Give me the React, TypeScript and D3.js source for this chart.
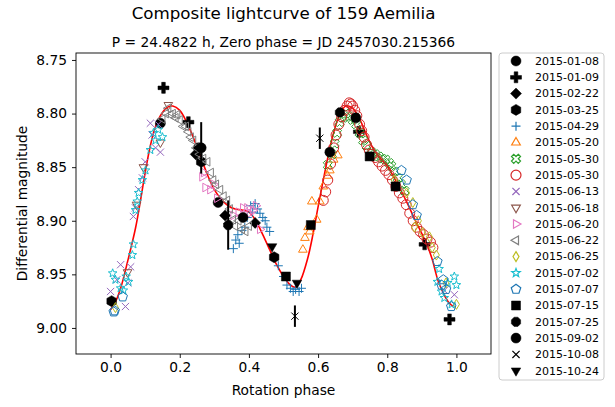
import React, { useRef, useEffect } from 'react';
import * as d3 from 'd3';

const W = 615;
const H = 407;
const margin = { top: 53, right: 124, bottom: 53, left: 76 };
const width = W - margin.left - margin.right;
const height = H - margin.top - margin.bottom;

// legend labels, in drawing order
const dates = [
  '2015-01-08', '2015-01-09', '2015-02-22', '2015-03-25', '2015-04-29',
  '2015-05-20', '2015-05-30', '2015-05-30', '2015-06-13', '2015-06-18',
  '2015-06-20', '2015-06-22', '2015-06-25', '2015-07-02', '2015-07-07',
  '2015-07-15', '2015-07-25', '2015-09-02', '2015-10-08', '2015-10-24',
];

const xTicks = [0.0, 0.2, 0.4, 0.6, 0.8, 1.0];
const yTicks = [8.75, 8.8, 8.85, 8.9, 8.95, 9.0];

// fitted lightcurve (phase, magnitude)
const modelPhase = [0.0, 0.015, 0.03, 0.05, 0.072, 0.086, 0.1, 0.115, 0.13, 0.15, 0.165, 0.18, 0.2, 0.22, 0.24, 0.26, 0.28, 0.3, 0.32, 0.34, 0.36, 0.38, 0.4, 0.42, 0.44, 0.46, 0.48, 0.5, 0.52, 0.535, 0.55, 0.57, 0.585, 0.6, 0.62, 0.64, 0.66, 0.68, 0.7, 0.72, 0.74, 0.76, 0.78, 0.8, 0.82, 0.84, 0.86, 0.88, 0.9, 0.917, 0.93, 0.946, 0.96, 0.975, 0.99];
const modelMag = [8.983, 8.975, 8.962, 8.937, 8.907, 8.882, 8.855, 8.83, 8.812, 8.799, 8.794, 8.793, 8.797, 8.808, 8.823, 8.84, 8.857, 8.871, 8.88, 8.886, 8.889, 8.89, 8.892, 8.9, 8.913, 8.927, 8.941, 8.952, 8.96, 8.962, 8.955, 8.935, 8.913, 8.887, 8.854, 8.824, 8.803, 8.793, 8.795, 8.805, 8.82, 8.833, 8.842, 8.849, 8.86, 8.872, 8.885, 8.899, 8.912, 8.924, 8.936, 8.955, 8.966, 8.975, 8.98];

// observations per night: [phase, mag, error?]
const n0108 = [[0.144, 8.809], [0.254, 8.832], [0.311, 8.883]];
const n0109 = [[0.153, 8.776, 0.005], [0.225, 8.808], [0.718, 8.817], [0.908, 8.922], [0.98, 8.992]];
const n0222 = [[0.246, 8.838], [0.331, 8.895], [0.418, 8.902]];
const n0325 = [[0.003, 8.975], [0.262, 8.845], [0.473, 8.934]];
const n0429 = [[0.355, 8.926], [0.362, 8.918], [0.368, 8.913], [0.372, 8.921], [0.38, 8.909], [0.388, 8.906], [0.395, 8.897], [0.405, 8.886], [0.41, 8.892], [0.418, 8.884], [0.425, 8.889], [0.432, 8.893], [0.44, 8.897], [0.447, 8.9], [0.452, 8.906], [0.46, 8.91], [0.485, 8.942], [0.5, 8.952], [0.51, 8.96], [0.52, 8.963], [0.528, 8.966], [0.535, 8.964], [0.545, 8.966], [0.552, 8.963]];
const n0520 = [[0.556, 8.927], [0.562, 8.916], [0.571, 8.906], [0.576, 8.91], [0.582, 8.882], [0.596, 8.899], [0.605, 8.882], [0.615, 8.868], [0.627, 8.858], [0.634, 8.853], [0.645, 8.843], [0.657, 8.839]];
const n0530a = [[0.628, 8.848], [0.64, 8.838], [0.648, 8.828], [0.655, 8.818], [0.662, 8.808], [0.672, 8.804], [0.68, 8.8], [0.69, 8.803], [0.7, 8.806], [0.71, 8.81], [0.72, 8.818], [0.73, 8.825], [0.74, 8.83], [0.755, 8.836], [0.765, 8.838], [0.775, 8.84], [0.785, 8.842], [0.795, 8.843], [0.805, 8.846], [0.812, 8.849], [0.82, 8.854], [0.83, 8.86], [0.84, 8.866], [0.85, 8.872]];
const n0530b = [[0.615, 8.881], [0.622, 8.873], [0.628, 8.862], [0.636, 8.847], [0.645, 8.832], [0.652, 8.82], [0.66, 8.81], [0.668, 8.803], [0.676, 8.797], [0.684, 8.793], [0.69, 8.79], [0.695, 8.791], [0.7, 8.793], [0.706, 8.797], [0.712, 8.802], [0.72, 8.81], [0.726, 8.816], [0.733, 8.822], [0.74, 8.829], [0.748, 8.834], [0.755, 8.838], [0.765, 8.841], [0.775, 8.845], [0.785, 8.849], [0.795, 8.853], [0.805, 8.857], [0.815, 8.862], [0.825, 8.868], [0.835, 8.874], [0.845, 8.879], [0.855, 8.885], [0.865, 8.893], [0.875, 8.9], [0.885, 8.906], [0.895, 8.91], [0.905, 8.913], [0.915, 8.917], [0.925, 8.92], [0.932, 8.925]];
const n0613 = [[0.0, 8.966], [0.018, 8.955], [0.029, 8.941], [0.043, 8.98], [0.05, 8.958], [0.058, 8.943], [0.066, 8.896], [0.072, 8.888], [0.081, 8.871], [0.092, 8.86], [0.1, 8.845], [0.115, 8.809], [0.12, 8.82], [0.13, 8.832], [0.144, 8.836], [0.138, 8.81], [0.965, 8.965], [0.994, 8.969]];
const n0618 = [[0.049, 8.948], [0.075, 8.885], [0.095, 8.85], [0.144, 8.827], [0.167, 8.792]];
const n0620 = [[0.265, 8.859], [0.27, 8.855], [0.274, 8.869], [0.288, 8.871], [0.298, 8.866], [0.308, 8.879], [0.355, 8.895], [0.37, 8.892], [0.383, 8.888], [0.395, 8.888], [0.402, 8.893], [0.412, 8.89], [0.42, 8.886], [0.432, 8.908]];
const n0622 = [[0.15, 8.805], [0.16, 8.8], [0.167, 8.795], [0.173, 8.801], [0.18, 8.8], [0.188, 8.804], [0.193, 8.801], [0.2, 8.806], [0.21, 8.812], [0.218, 8.812], [0.225, 8.817], [0.232, 8.822], [0.239, 8.825], [0.248, 8.832], [0.258, 8.838], [0.268, 8.842], [0.28, 8.845], [0.29, 8.855], [0.297, 8.862], [0.305, 8.866], [0.317, 8.871], [0.327, 8.877], [0.337, 8.881], [0.345, 8.889], [0.354, 8.899], [0.36, 8.905], [0.37, 8.9], [0.38, 8.908], [0.39, 8.91], [0.4, 8.905]];
const n0625 = [[0.014, 8.981], [0.82, 8.862], [0.856, 8.874], [0.874, 8.883], [0.879, 8.906], [0.89, 8.9], [0.902, 8.911], [0.922, 8.915], [0.93, 8.925], [0.942, 8.932], [0.97, 8.958], [1.0, 8.978]];
const n0702 = [[0.006, 8.949], [0.014, 8.955], [0.029, 8.963], [0.037, 8.965], [0.045, 8.952], [0.052, 8.957], [0.063, 8.932], [0.066, 8.922], [0.072, 8.89], [0.077, 8.882], [0.081, 8.874], [0.092, 8.862], [0.101, 8.853], [0.115, 8.834], [0.124, 8.818], [0.13, 8.825], [0.138, 8.815], [0.15, 8.822], [0.945, 8.957], [0.95, 8.945], [0.957, 8.966], [0.965, 8.972], [0.975, 8.958], [0.986, 8.978], [0.994, 8.952], [1.0, 8.96]];
const n0707 = [[0.009, 8.985], [0.012, 8.984], [0.035, 8.971], [0.841, 8.853], [0.856, 8.862], [0.874, 8.885], [0.885, 8.895], [0.945, 8.938], [0.957, 8.96], [0.962, 8.955], [0.97, 8.964], [0.985, 8.98]];
const n0715 = [[0.507, 8.952], [0.579, 8.904], [0.749, 8.84], [0.824, 8.868]];
const n0725 = [[0.34, 8.904, 0.023], [0.663, 8.799]];
const n0902 = [[0.262, 8.832, 0.024], [0.383, 8.897], [0.634, 8.836], [0.709, 8.804]];
const n1008 = [[0.605, 8.823, 0.01], [0.533, 8.989, 0.01]];
const n1024 = [[0.467, 8.924], [0.539, 8.958]];

const nights = [n0108, n0109, n0222, n0325, n0429, n0520, n0530a, n0530b, n0613, n0618, n0620, n0622, n0625, n0702, n0707, n0715, n0725, n0902, n1008, n1024];

// marker style per night
const styles = [
  { m: 'o', c: '#000', fill: true, s: 10 },
  { m: 'P', c: '#000', fill: true, s: 11 },
  { m: 'D', c: '#000', fill: true, s: 11 },
  { m: 'h', c: '#000', fill: true, s: 11 },
  { m: '+', c: '#1f77b4', fill: false, s: 9 },
  { m: '^', c: '#ff7f0e', fill: false, s: 10 },
  { m: 'X', c: '#2ca02c', fill: false, s: 8 },
  { m: 'o', c: '#d62728', fill: false, s: 10 },
  { m: 'x', c: '#9467bd', fill: false, s: 9 },
  { m: 'v', c: '#8c564b', fill: false, s: 10 },
  { m: '>', c: '#e377c2', fill: false, s: 10 },
  { m: '<', c: '#7f7f7f', fill: false, s: 10 },
  { m: 'd', c: '#bcbd22', fill: false, s: 10 },
  { m: '*', c: '#17becf', fill: false, s: 9 },
  { m: 'p', c: '#1f77b4', fill: false, s: 10 },
  { m: 's', c: '#000', fill: true, s: 10 },
  { m: '8', c: '#000', fill: true, s: 10 },
  { m: 'o', c: '#000', fill: true, s: 10 },
  { m: 'x', c: '#000', fill: false, s: 9 },
  { m: 'v', c: '#000', fill: true, s: 11 },
];

const poly = (n: number, r: number, rot: number) => {
  const pts = d3.range(n).map(i => {
    const a = rot + (i * 2 * Math.PI) / n;
    return [r * Math.cos(a), r * Math.sin(a)];
  });
  return 'M' + pts.map(p => p[0].toFixed(2) + ',' + p[1].toFixed(2)).join('L') + 'Z';
};

const rotatePts = (pts: number[][], ang: number) =>
  pts.map(([x, y]) => [x * Math.cos(ang) - y * Math.sin(ang), x * Math.sin(ang) + y * Math.cos(ang)]);

const ptsPath = (pts: number[][]) =>
  'M' + pts.map(p => p[0].toFixed(2) + ',' + p[1].toFixed(2)).join('L') + 'Z';

const markerPath = (m: string, s: number) => {
  const r = s / 2;
  const t = s / 6;
  const plusPts = [[-t, -r], [t, -r], [t, -t], [r, -t], [r, t], [t, t], [t, r], [-t, r], [-t, t], [-r, t], [-r, -t], [-t, -t]];
  switch (m) {
    case 'o':
      return `M${r},0A${r},${r} 0 1,1 ${-r},0A${r},${r} 0 1,1 ${r},0Z`;
    case 'P':
      return ptsPath(plusPts);
    case 'X':
      return ptsPath(rotatePts(plusPts.map(([x, y]) => [x * 1.2, y * 1.2]), Math.PI / 4));
    case 'D':
      return poly(4, r, -Math.PI / 2);
    case 'd':
      return ptsPath([[0, -r], [r * 0.6, 0], [0, r], [-r * 0.6, 0]]);
    case 'h':
      return poly(6, r, -Math.PI / 2);
    case '8':
      return poly(8, r, Math.PI / 8);
    case 'p':
      return poly(5, r, -Math.PI / 2);
    case 's':
      return `M${-r * 0.9},${-r * 0.9}H${r * 0.9}V${r * 0.9}H${-r * 0.9}Z`;
    case '^':
      return poly(3, r, -Math.PI / 2);
    case 'v':
      return poly(3, r, Math.PI / 2);
    case '<':
      return poly(3, r, Math.PI);
    case '>':
      return poly(3, r, 0);
    case '*': {
      const pts = d3.range(10).map(i => {
        const a = -Math.PI / 2 + (i * Math.PI) / 5;
        const rr = i % 2 === 0 ? r : r * 0.42;
        return [rr * Math.cos(a), rr * Math.sin(a)];
      });
      return ptsPath(pts);
    }
    case '+':
      return `M${-r},0H${r}M0,${-r}V${r}`;
    case 'x': {
      const q = r * 0.8;
      return `M${-q},${-q}L${q},${q}M${-q},${q}L${q},${-q}`;
    }
  }
  return '';
};

const App: React.FC = () => {
  const svgRef = useRef<SVGSVGElement>(null);

  useEffect(() => {
    const root = d3.select(svgRef.current as any);
    root.selectAll('*').remove();

    const xScale = d3.scaleLinear().domain([-0.1, 1.1]).range([0, width]);
    const yScale = d3.scaleLinear().domain([8.7435, 9.0243]).range([0, height]);

    // titles
    root.append('text')
      .attr('x', margin.left + width / 2).attr('y', 19)
      .attr('text-anchor', 'middle').style('font-size', '16.7px')
      .text('Composite lightcurve of 159 Aemilia');
    root.append('text')
      .attr('x', margin.left + width / 2).attr('y', 47)
      .attr('text-anchor', 'middle').style('font-size', '13.8px')
      .text('P = 24.4822 h, Zero phase = JD 2457030.215366');

    const svg = root.append('g').attr('transform', `translate(${margin.left},${margin.top})`);

    svg.append('defs').append('clipPath').attr('id', 'plotclip')
      .append('rect').attr('width', width).attr('height', height);

    const plot = svg.append('g').attr('clip-path', 'url(#plotclip)');

    // fitted curve
    const line = d3.line<number>()
      .x((_, i) => xScale(modelPhase[i]))
      .y(d => yScale(d))
      .curve(d3.curveCatmullRom);
    plot.append('path')
      .attr('d', line(modelMag) as string)
      .attr('fill', 'none')
      .attr('stroke', '#ff0000')
      .attr('stroke-width', 1.6);

    // observations
    nights.forEach((pts, i) => {
      const st = styles[i];
      const g = plot.append('g');
      g.selectAll('.err')
        .data(pts.filter(p => p.length > 2))
        .join('line')
        .attr('x1', d => xScale(d[0]))
        .attr('x2', d => xScale(d[0]))
        .attr('y1', d => yScale(d[1] - d[2]))
        .attr('y2', d => yScale(d[1] + d[2]))
        .attr('stroke', st.c)
        .attr('stroke-width', 2);
      g.selectAll('.pt')
        .data(pts)
        .join('path')
        .attr('transform', d => `translate(${xScale(d[0])},${yScale(d[1])})`)
        .attr('d', markerPath(st.m, st.s))
        .attr('fill', st.fill ? st.c : 'none')
        .attr('stroke', st.c)
        .attr('stroke-width', st.fill ? 0.5 : 1);
    });

    // frame
    svg.append('rect')
      .attr('width', width).attr('height', height)
      .attr('fill', 'none').attr('stroke', '#000').attr('stroke-width', 0.9);

    // axes
    const xAxis = svg.append('g').attr('transform', `translate(0,${height})`)
      .call(d3.axisBottom(xScale).tickValues(xTicks).tickFormat(d3.format('.1f')).tickSize(4).tickPadding(4));
    const yAxis = svg.append('g')
      .call(d3.axisLeft(yScale).tickValues(yTicks).tickFormat(d3.format('.2f')).tickSize(4).tickPadding(5));
    [xAxis, yAxis].forEach(a => {
      a.select('.domain').remove();
      a.selectAll('text').style('font-size', '13.8px').style('font-family', 'DejaVu Sans').attr('fill', '#000');
      a.selectAll('line').attr('stroke', '#000').attr('stroke-width', 0.9);
    });

    svg.append('text')
      .attr('x', width / 2).attr('y', height + 41)
      .attr('text-anchor', 'middle').style('font-size', '13.8px')
      .text('Rotation phase');
    svg.append('text')
      .attr('transform', `translate(${22 - margin.left},${height / 2}) rotate(-90)`)
      .attr('text-anchor', 'middle').attr('dy', '0.35em').style('font-size', '13.8px')
      .text('Differential magnitude');

    // legend
    const lg = root.append('g').attr('transform', 'translate(499,53)');
    lg.append('rect')
      .attr('width', 105).attr('height', 327).attr('rx', 3)
      .attr('fill', '#fff').attr('fill-opacity', 0.8)
      .attr('stroke', '#ccc').attr('stroke-width', 1);
    const items = lg.selectAll('.item')
      .data(dates)
      .join('g')
      .attr('transform', (_, i) => `translate(0,${8 + i * 16.3})`);
    items.append('path')
      .attr('transform', 'translate(17,0)')
      .attr('d', (_, i) => markerPath(styles[i].m, styles[i].s))
      .attr('fill', (_, i) => (styles[i].fill ? styles[i].c : 'none'))
      .attr('stroke', (_, i) => styles[i].c)
      .attr('stroke-width', (_, i) => (styles[i].fill ? 0.5 : 1.2));
    items.append('text')
      .attr('x', 36).attr('dy', '0.35em')
      .style('font-size', '11px')
      .text(d => d);
  }, []);

  return (
    <svg
      ref={svgRef}
      width={W}
      height={H}
      style={{ position: 'absolute', left: 0, top: 0, fontFamily: 'DejaVu Sans', background: '#fff' }}
    ></svg>
  );
};

export default App;
